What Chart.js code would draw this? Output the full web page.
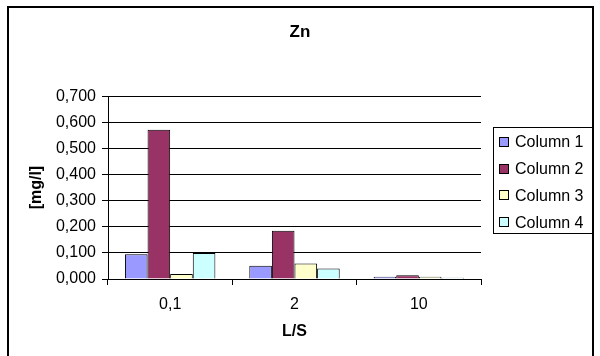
<!DOCTYPE html>
<html>
<head>
<meta charset="utf-8">
<script src="https://cdn.jsdelivr.net/npm/chart.js@4/dist/chart.umd.min.js"></script>
<style>
html,body{margin:0;padding:0;background:#fff;}
#wrap{width:600px;height:356px;position:relative;}
</style>
</head>
<body>
<div id="wrap"><canvas id="c" width="600" height="356"></canvas></div>
<script>
const categories = ['0,1', '2', '10'];
const seriesNames = ['Column 1', 'Column 2', 'Column 3', 'Column 4'];
const column1 = [0.095, 0.051, 0.009];
const column2 = [0.572, 0.185, 0.014];
const column3 = [0.019, 0.059, 0.009];
const column4 = [0.100, 0.040, 0.005];
const seriesColors = ['#9999FF', '#993366', '#FFFFCC', '#CCFFFF'];
const yTicks = [0, 0.1, 0.2, 0.3, 0.4, 0.5, 0.6, 0.7];

const FONT = "'Liberation Sans', Arial, sans-serif";
Chart.defaults.font.family = FONT;
Chart.defaults.color = '#000';

const seriesData = [column1, column2, column3, column4];

const frameAndLegend = {
  id: 'frameAndLegend',
  beforeDraw(chart) {
    const ctx = chart.ctx;
    ctx.save();
    ctx.fillStyle = '#fff';
    ctx.fillRect(0, 0, chart.width, chart.height);
    ctx.restore();
  },
  afterDraw(chart) {
    const ctx = chart.ctx;
    ctx.save();
    // outer frame
    ctx.strokeStyle = '#000';
    ctx.lineWidth = 2;
    ctx.strokeRect(8, 7, 585, 360);
    // legend box
    const lx = 493.5, ly = 127.5, lw = 99, lh = 106;
    ctx.lineWidth = 1;
    ctx.strokeStyle = '#000';
    ctx.strokeRect(lx, ly, lw, lh);
    ctx.font = '16px ' + FONT;
    ctx.textBaseline = 'middle';
    ctx.textAlign = 'left';
    chart.data.datasets.forEach((ds, i) => {
      const cy = 142 + i * 26.7;
      ctx.fillStyle = ds.backgroundColor;
      ctx.fillRect(499.5, Math.round(cy - 5) + 0.5, 9, 9);
      ctx.strokeStyle = '#000';
      ctx.strokeRect(499.5, Math.round(cy - 5) + 0.5, 9, 9);
      ctx.fillStyle = '#000';
      ctx.fillText(ds.label, 515, cy + 1);
    });
    ctx.restore();
  }
};

new Chart(document.getElementById('c'), {
  type: 'bar',
  data: {
    labels: categories,
    datasets: seriesNames.map((name, i) => ({
      label: name,
      data: seriesData[i],
      backgroundColor: seriesColors[i],
      borderColor: '#000',
      borderWidth: 1,
      categoryPercentage: 4 / 5.5,
      barPercentage: 1.0,
      yAxisID: 'y'
    }))
  },
  options: {
    responsive: false,
    animation: false,
    devicePixelRatio: 1,
    layout: { padding: { left: 0, right: 0, top: 0, bottom: 0 } },
    plugins: {
      legend: { display: false },
      tooltip: { enabled: false },
      title: {
        display: true,
        text: 'Zn',
        color: '#000',
        font: { size: 17, weight: 'bold', family: FONT },
        padding: { top: 21.8, bottom: 54 }
      }
    },
    scales: {
      x: {
        offset: true,
        grid: {
          offset: true,
          drawOnChartArea: false,
          drawTicks: true,
          tickLength: 6,
          color: '#000',
          lineWidth: 1
        },
        border: { display: true, color: '#000', width: 1 },
        ticks: { color: '#000', font: { size: 16, family: FONT }, padding: 10, maxRotation: 0 },
        title: {
          display: true,
          text: 'L/S',
          color: '#000',
          font: { size: 16, weight: 'bold', family: FONT },
          padding: { top: 0, bottom: 14.4 }
        },
        afterFit(scale) { scale.height = 77; }
      },
      y: {
        min: 0,
        max: 0.7,
        afterBuildTicks(scale) { scale.ticks = yTicks.map(v => ({ value: v })); },
        grid: {
          color: '#000',
          lineWidth: 1,
          drawTicks: true,
          tickLength: 6
        },
        border: { display: true, color: '#000', width: 1 },
        ticks: {
          color: '#000',
          font: { size: 16, family: FONT },
          padding: 6,
          callback: (v) => Number(v).toFixed(3).replace('.', ',')
        },
        title: {
          display: true,
          text: '[mg/l]',
          color: '#000',
          font: { size: 16, weight: 'bold', family: FONT },
          padding: { top: 27.4, bottom: 0 }
        },
        afterFit(scale) { scale.width = 108; }
      },
      legendSpace: {
        type: 'linear',
        position: 'right',
        display: true,
        min: 0,
        max: 1,
        grid: { display: false, drawOnChartArea: false, drawTicks: false },
        border: { display: false },
        ticks: { display: false },
        title: { display: false },
        afterFit(scale) { scale.width = 119; }
      }
    }
  },
  plugins: [frameAndLegend]
});
</script>
</body>
</html>
